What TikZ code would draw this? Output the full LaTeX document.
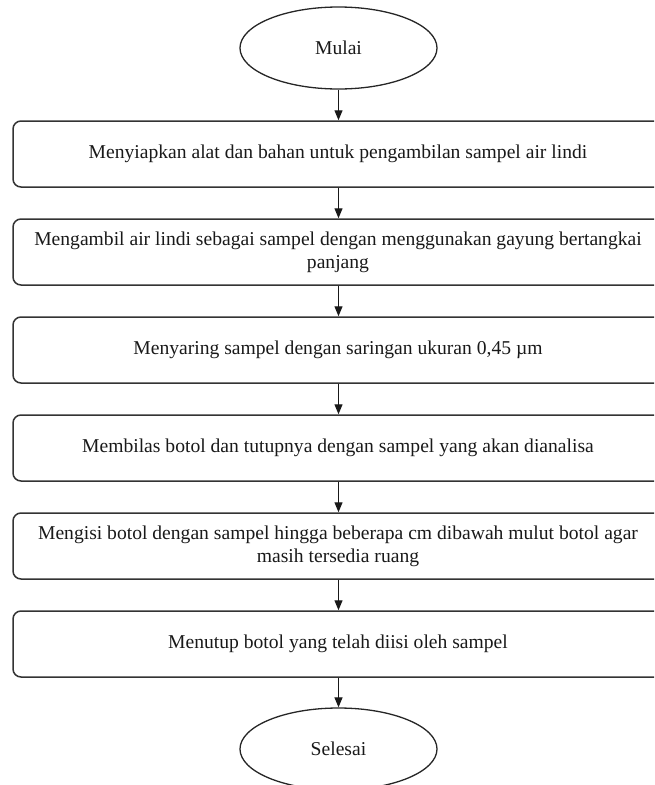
\documentclass[tikz,border=0pt]{standalone}
\usepackage{fontspec}
\setmainfont{Liberation Serif}
\usetikzlibrary{shapes.geometric,arrows.meta}
\begin{document}
\begin{tikzpicture}[x=1pt,y=-1pt,
  every node/.style={font=\fontsize{19.6}{23}\selectfont, text=black!90},
  stepbox/.style={draw=black!80, line width=1.5pt, rounded corners=8pt,
    minimum width=650pt, minimum height=66pt, inner sep=0pt, align=center},
  term/.style={draw=black!85, line width=1.3pt, ellipse, minimum width=197pt,
    minimum height=82pt, inner sep=0pt},
  conn/.style={draw=black!90, line width=1.2pt, -{Triangle[length=10pt,width=8pt]}}]
\clip (0,0) rectangle (654,785);
\node[term] (start) at (338.5,48) {Mulai};
\node[stepbox] (s1) at (338,154) {Menyiapkan alat dan bahan untuk pengambilan sampel air lindi};
\node[stepbox] (s2) at (338,252) {Mengambil air lindi sebagai sampel dengan menggunakan gayung bertangkai\\panjang};
\node[stepbox] (s3) at (338,350) {Menyaring sampel dengan saringan ukuran 0,45 µm};
\node[stepbox] (s4) at (338,448) {Membilas botol dan tutupnya dengan sampel yang akan dianalisa};
\node[stepbox] (s5) at (338,546) {Mengisi botol dengan sampel hingga beberapa cm dibawah mulut botol agar\\masih tersedia ruang};
\node[stepbox] (s6) at (338,644) {Menutup botol yang telah diisi oleh sampel};
\node[term] (end) at (338.5,749) {Selesai};
\draw[conn] (start.south) -- (start.south |- s1.north);
\draw[conn] (s1.south -| start.south) -- (s2.north -| start.south);
\draw[conn] (s2.south -| start.south) -- (s3.north -| start.south);
\draw[conn] (s3.south -| start.south) -- (s4.north -| start.south);
\draw[conn] (s4.south -| start.south) -- (s5.north -| start.south);
\draw[conn] (s5.south -| start.south) -- (s6.north -| start.south);
\draw[conn] (s6.south -| start.south) -- (end.north);
\end{tikzpicture}
\end{document}
